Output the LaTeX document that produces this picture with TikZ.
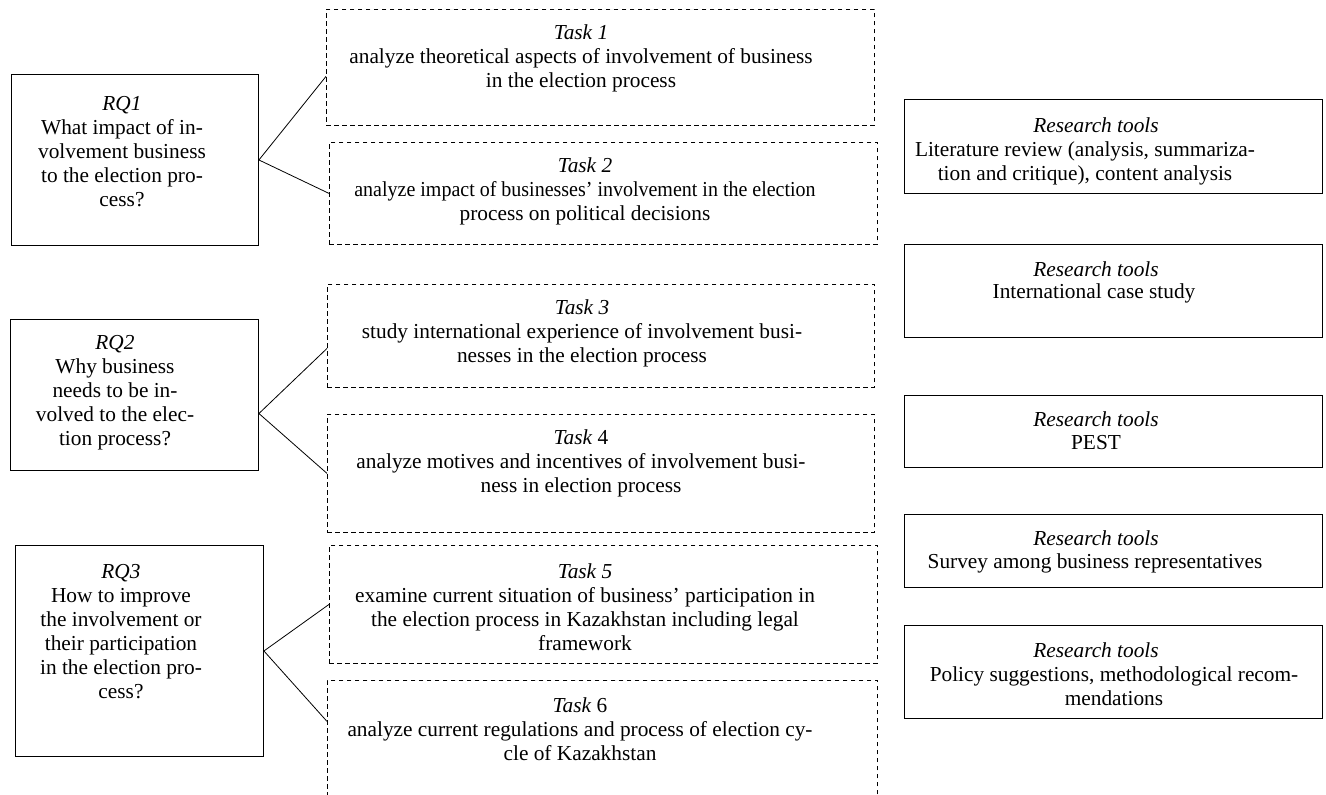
\documentclass[tikz,border=0pt]{standalone}
\usepackage{fontspec}
\setmainfont{Liberation Serif}
\begin{document}
\begin{tikzpicture}[x=0.75pt,y=-0.75pt,
  solidbox/.style={draw=black,line width=0.7pt,rectangle,inner sep=0pt,anchor=north west},
  dashbox/.style={draw=black,line width=0.6pt,dash pattern=on 3.6pt off 2.4pt,rectangle,inner sep=0pt,anchor=north west},
  txt/.style={inner sep=0pt,align=center,font=\fontsize{16}{18}\selectfont},
  link/.style={draw=black,line width=0.6pt}]
\clip (0,0) rectangle (1326,794);
\fill[white] (0,0) rectangle (1326,794);
% research question boxes
\node[solidbox,minimum width=247*0.75pt,minimum height=171*0.75pt] (rq1) at (11,74) {};
\node[solidbox,minimum width=248*0.75pt,minimum height=151*0.75pt] (rq2) at (10,319) {};
\node[solidbox,minimum width=248*0.75pt,minimum height=211*0.75pt] (rq3) at (15,545) {};
% task boxes
\node[dashbox,minimum width=548*0.75pt,minimum height=116*0.75pt] (t1) at (326,9) {};
\node[dashbox,minimum width=548*0.75pt,minimum height=102*0.75pt] (t2) at (329,142) {};
\node[dashbox,minimum width=547*0.75pt,minimum height=103*0.75pt] (t3) at (327,284) {};
\node[dashbox,minimum width=547*0.75pt,minimum height=118*0.75pt] (t4) at (327,414) {};
\node[dashbox,minimum width=548*0.75pt,minimum height=118*0.75pt] (t5) at (329,545) {};
\node[dashbox,minimum width=550*0.75pt,minimum height=140*0.75pt] (t6) at (327,680) {};
% research tools boxes
\node[solidbox,minimum width=418*0.75pt,minimum height=94*0.75pt] (r1) at (904,99) {};
\node[solidbox,minimum width=418*0.75pt,minimum height=93*0.75pt] (r2) at (904,244) {};
\node[solidbox,minimum width=418*0.75pt,minimum height=72*0.75pt] (r3) at (904,395) {};
\node[solidbox,minimum width=418*0.75pt,minimum height=73*0.75pt] (r4) at (904,514) {};
\node[solidbox,minimum width=418*0.75pt,minimum height=93*0.75pt] (r5) at (904,625) {};
% texts
\node[txt] (rq1t) at (122,152) {\textit{RQ1}\\What impact of in-\\volvement business\\to the election pro-\\cess?};
\node[txt] (rq2t) at (115,393) {\textit{RQ2}\\Why business\\needs to be in-\\volved to the elec-\\tion process?};
\node[txt] (rq3t) at (121,632) {\textit{RQ3}\\How to improve\\the involvement or\\their participation\\in the election pro-\\cess?};
\node[txt] (t1t) at (581,58) {\textit{Task 1}\\analyze theoretical aspects of involvement of business\\in the election process};
\node[txt] (t2t) at (585,191) {\textit{Task 2}\\\scalebox{0.937}[1]{analyze impact of businesses’ involvement in the election}\\process on political decisions};
\node[txt] (t3t) at (582,333) {\textit{Task 3}\\study international experience of involvement busi-\\nesses in the election process};
\node[txt] (t4t) at (581,463) {\textit{Task} 4\\analyze motives and incentives of involvement busi-\\ness in election process};
\node[txt] (t5t) at (585,607) {\textit{Task 5}\\examine current situation of business’ participation in\\the election process in Kazakhstan including legal\\framework};
\node[txt] (t6t) at (580,729) {\textit{Task} 6\\analyze current regulations and process of election cy-\\cle of Kazakhstan};
\node[txt] (r1h) at (1096,125) {\textit{Research tools}};
\node[txt] (r1b) at (1085,163) {Literature review (analysis, summariza-\\tion and critique), content analysis};
\node[txt] (r2h) at (1096,269) {\textit{Research tools}};
\node[txt] (r2b) at (1094,293) {International case study};
\node[txt] (r3h) at (1096,419) {\textit{Research tools}};
\node[txt] (r3b) at (1096,443) {PEST};
\node[txt] (r4h) at (1096,538) {\textit{Research tools}};
\node[txt] (r4b) at (1095,563) {Survey among business representatives};
\node[txt] (r5h) at (1096,650) {\textit{Research tools}};
\node[txt] (r5b) at (1114,686) {Policy suggestions, methodological recom-\\mendations};
% connectors
\draw[link] (rq1.east) -- ([yshift=-6.75pt]t1.west);
\draw[link] (rq1.east) -- (t2.west);
\draw[link] ([yshift=-13.9pt]rq2.east) -- ([yshift=-9.4pt]t3.west);
\draw[link] ([yshift=-13.9pt]rq2.east) -- (t4.west);
\draw[link] (rq3.east) -- (t5.west);
\draw[link] (rq3.east) -- ([yshift=21.75pt]t6.west);
\end{tikzpicture}
\end{document}
